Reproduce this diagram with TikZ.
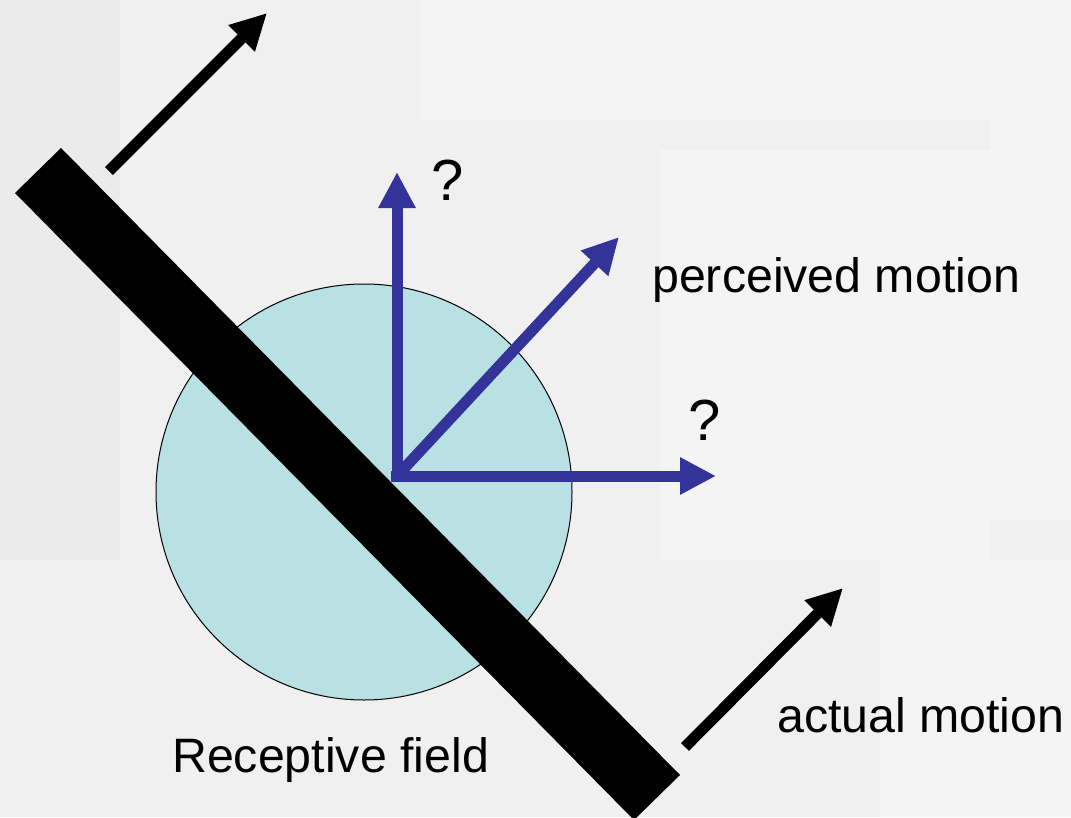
\documentclass[tikz,border=0pt]{standalone}
\usepackage{fontspec}
\setmainfont{Liberation Sans}
\usetikzlibrary{arrows.meta}
\definecolor{bgc}{RGB}{240,240,240}
\definecolor{bgl}{RGB}{244,244,244}
\definecolor{bgd}{RGB}{235,235,235}
\definecolor{rfc}{RGB}{185,224,227}
\definecolor{pblue}{RGB}{51,51,153}
\tikzset{
  lbl/.style={anchor=base west, inner sep=0pt, font=\fontsize{48.3}{58}\selectfont},
  qlbl/.style={anchor=base west, inner sep=0pt, font=\fontsize{58}{68}\selectfont},
  bigarrow/.style={line width=11pt, -{Triangle[length=36pt,width=35pt]}},
  blackarrow/.style={bigarrow, black},
  bluearrow/.style={bigarrow, pblue},
}
\begin{document}
\begin{tikzpicture}[x=1pt,y=-1pt]
\useasboundingbox (0,0) rectangle (1071,817);
\clip (0,0) rectangle (1071,817);
% background
\fill[bgc] (0,0) rectangle (1071,817);
\fill[bgd] (0,0) rectangle (120,560);
\fill[bgl] (420,0) rectangle (1071,120);
\fill[bgl] (660,150) rectangle (990,560);
\fill[bgl] (990,90) rectangle (1071,520);
\fill[bgl] (880,560) rectangle (1071,817);
% receptive field
\node[circle, draw=black, line width=1pt, fill=rfc, minimum size=416pt, inner sep=0pt] (rf) at (364,492) {};
% bar
\fill[black] (15,193) -- (61,148) -- (680,775) -- (634,820) -- cycle;
% black arrows (actual motion)
\coordinate (a1s) at (109,171);
\coordinate (a1e) at (267,13);
\coordinate (a2s) at (685,747);
\coordinate (a2e) at (843,588);
\draw[blackarrow] (a1s) -- (a1e);
\draw[blackarrow] (a2s) -- (a2e);
% blue arrows
\coordinate (o) at (397,476);
\coordinate (ov) at (397,482);
\coordinate (oh) at (391,476);
\coordinate (up) at (397,172);
\coordinate (rt) at (716,476);
\coordinate (dg) at (619,237);
\draw[bluearrow] (ov) -- (up);
\draw[bluearrow] (oh) -- (rt);
\draw[bluearrow] (o) -- (dg);
% labels
\node[qlbl] (q1) at (431,200) {?};
\node[qlbl] (q2) at (688,440) {?};
\node[lbl] (pm) at (652,292) {perceived motion};
\node[lbl] (am) at (777,732) {actual motion};
\node[lbl] (rl) at (172,772) {Receptive field};
\end{tikzpicture}
\end{document}
